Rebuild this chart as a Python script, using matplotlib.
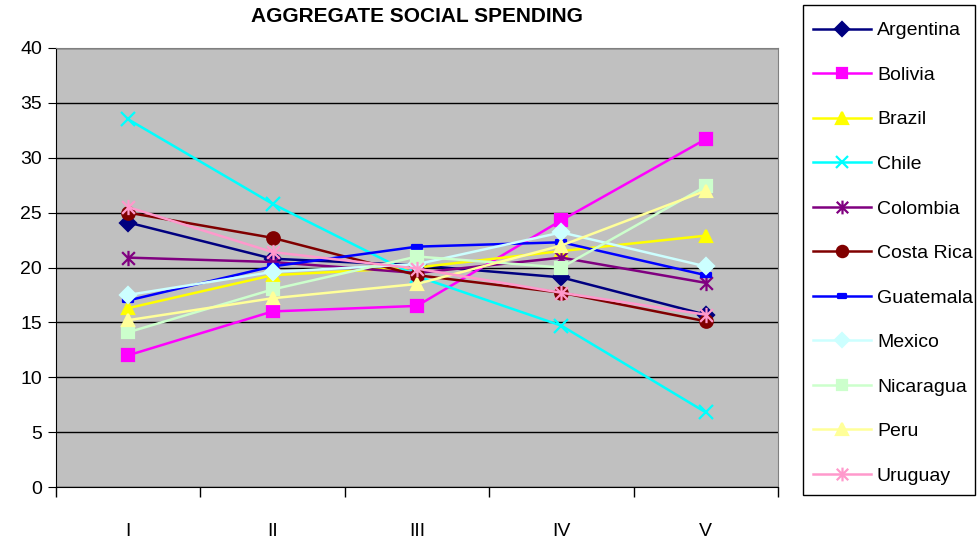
import numpy as np
import matplotlib
matplotlib.use("Agg")
import matplotlib.pyplot as plt
from matplotlib.path import Path
from matplotlib.patches import Rectangle

plt.rcParams['font.family'] = ['Liberation Sans', 'DejaVu Sans']

# Data
periods = ["I", "II", "III", "IV", "V"]
argentina = [24.1, 20.8, 20.2, 19.1, 15.7]
bolivia = [12.0, 16.0, 16.5, 24.3, 31.7]
brazil = [16.3, 19.3, 20.0, 21.5, 22.9]
chile = [33.5, 25.8, 19.2, 14.7, 6.8]
colombia = [20.9, 20.5, 19.5, 20.9, 18.6]
costa_rica = [25.0, 22.7, 19.3, 17.7, 15.1]
guatemala = [17.0, 20.1, 21.9, 22.3, 19.3]
mexico = [17.5, 19.6, 20.3, 23.2, 20.1]
nicaragua = [14.1, 18.0, 21.0, 20.0, 27.4]
peru = [15.2, 17.2, 18.5, 22.0, 27.0]
uruguay = [25.5, 21.4, 19.9, 17.7, 15.7]

# Excel-style star marker (X plus vertical bar)
star = Path([(-1, -1), (1, 1), (-1, 1), (1, -1), (0, -1.2), (0, 1.2)],
            [Path.MOVETO, Path.LINETO, Path.MOVETO, Path.LINETO, Path.MOVETO, Path.LINETO])
dash = Path([(-1, -0.5), (1, -0.5), (1, 0.5), (-1, 0.5), (-1, -0.5)],
            [Path.MOVETO, Path.LINETO, Path.LINETO, Path.LINETO, Path.CLOSEPOLY])

series = [
    ("Argentina", argentina, "#000080", "D", 8),
    ("Bolivia", bolivia, "#FF00FF", "s", 8),
    ("Brazil", brazil, "#FFFF00", "^", 9),
    ("Chile", chile, "#00FFFF", "x", 10),
    ("Colombia", colombia, "#800080", star, 11),
    ("Costa Rica", costa_rica, "#800000", "o", 9),
    ("Guatemala", guatemala, "#0000FF", dash, 7),
    ("Mexico", mexico, "#CCFFFF", "D", 8),
    ("Nicaragua", nicaragua, "#CCFFCC", "s", 8),
    ("Peru", peru, "#FFFF99", "^", 9),
    ("Uruguay", uruguay, "#FF99CC", star, 11),
]

W, H = 977, 542
fig = plt.figure(figsize=(W / 100, H / 100), dpi=100)
ax = fig.add_axes([56 / W, 55 / H, 722 / W, 439 / H])
ax.set_facecolor("#C0C0C0")

x = np.arange(len(periods))
handles = []
for name, vals, col, mk, ms in series:
    h, = ax.plot(x, vals, color=col, marker=mk, markersize=ms, linewidth=1.8,
                 markeredgecolor=col, markerfacecolor=col, markeredgewidth=1.6, label=name)
    handles.append(h)

ax.set_xlim(-0.5, 4.5)
ax.set_ylim(0, 40)
ax.set_yticks(np.arange(0, 41, 5))
ax.yaxis.grid(True, color="black", linewidth=1.0)
ax.set_axisbelow(True)

ax.set_xticks(x)
ax.set_xticklabels(periods)
ax.set_xticks(np.arange(-0.5, 5, 1), minor=True)
ax.tick_params(axis="x", which="major", length=0, pad=26, labelsize=14)
ax.tick_params(axis="x", which="minor", length=7, direction="out", width=1)
ax.tick_params(axis="y", length=6, direction="out", labelsize=14, pad=4)

ax.spines["left"].set_color("black")
ax.spines["bottom"].set_color("black")
ax.spines["top"].set_color("#808080")
ax.spines["right"].set_color("#808080")

fig.text(417 / W, 1 - 17 / H, "AGGREGATE SOCIAL SPENDING", ha="center", va="center",
         fontsize=15, fontweight="bold")

# legend box drawn separately so its size matches the original
fig.patches.append(Rectangle((803 / W, 1 - 495 / H), 172 / W, 490 / H,
                             transform=fig.transFigure, fill=False,
                             edgecolor="black", linewidth=1.0))
leg = fig.legend(handles=handles, loc="upper left", bbox_to_anchor=(806 / W, 1 - 15 / H),
                 fontsize=14, frameon=False,
                 labelspacing=1.385, handlelength=3.0, handletextpad=0.3,
                 borderpad=0.35, borderaxespad=0, markerscale=0.9)

fig.savefig("out.png", dpi=100)
